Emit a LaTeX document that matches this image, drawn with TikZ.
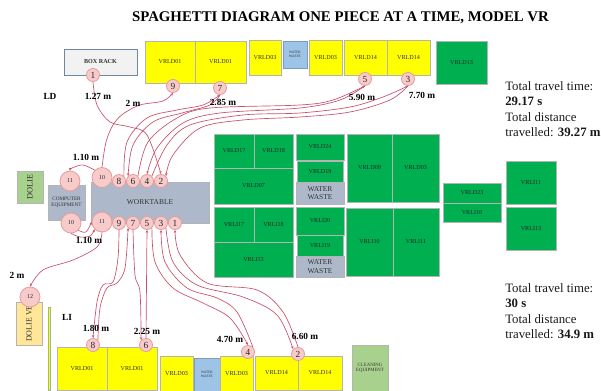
\documentclass[tikz,border=0pt]{standalone}
\usepackage{fontspec}
\setmainfont{Liberation Serif}
\usetikzlibrary{arrows.meta}
\definecolor{grn}{HTML}{00B050}
\definecolor{lgrn}{HTML}{A9D18E}
\definecolor{ylw}{HTML}{FFFF00}
\definecolor{slate}{HTML}{ADB9CA}
\definecolor{sky}{HTML}{9DC3E6}
\definecolor{sand}{HTML}{FFE699}
\definecolor{rack}{HTML}{F2F2F2}
\definecolor{pinkfill}{HTML}{F8CBCB}
\definecolor{pinkline}{HTML}{E59C9C}
\definecolor{routecol}{HTML}{C8506E}
\definecolor{edge}{HTML}{B4B4B4}
\newcommand{\bx}[7]{%
  \pgfmathsetlengthmacro{\bw}{(#4-#2)*0.75pt}%
  \pgfmathsetlengthmacro{\bh}{(#5-#3)*0.75pt}%
  \pgfmathsetmacro{\bcx}{(#2+#4)/2}%
  \pgfmathsetmacro{\bcy}{(#3+#5)/2}%
  \node[boxbase,#6,minimum width=\bw,minimum height=\bh] (#1) at (\bcx,\bcy) {#7};}
\tikzset{
  x=0.75pt,y=-0.75pt,
  boxbase/.style={draw=edge,line width=0.6pt,inner sep=0pt,align=center,font=\fontsize{4.6}{5.4}\selectfont,text=black!80},
  green box/.style={fill=grn,text=black!85},
  yellow box/.style={fill=ylw},
  slate box/.style={fill=slate},
  sky box/.style={fill=sky,draw=sky!80!black,font=\fontsize{2.6}{3}\selectfont},
  small/.style={circle,draw=pinkline,fill=pinkfill,line width=0.6pt,inner sep=0pt,minimum size=9.8pt,font=\fontsize{7}{8}\selectfont,text=black!85},
  big/.style={small,minimum size=15pt,font=\fontsize{4.5}{5}\selectfont},
  route/.style={draw=routecol,line width=0.5pt,-{Stealth[length=2.2pt,width=1.8pt]}},
  curve/.style={smooth,tension=0.55},
  dist/.style={font=\fontsize{7}{8}\selectfont\bfseries,inner sep=0pt},
  note/.style={font=\fontsize{9.6}{11.6}\selectfont,align=left,anchor=north west,inner sep=0pt,text=black!90},
}
\begin{document}
\begin{tikzpicture}
\useasboundingbox (0,0) rectangle (601,391);
\node[font=\fontsize{11.1}{13}\selectfont\bfseries,inner sep=0pt] (title) at (340.5,18) {SPAGHETTI DIAGRAM ONE PIECE AT A TIME, MODEL VR};
% top row
\bx{rackbox}{64}{49}{137}{75}{fill=rack,draw=sky!70!black}{\textbf{BOX RACK}}
\bx{ta}{145}{41}{195}{83}{yellow box}{VRLD01}
\bx{tb}{195}{41}{246}{83}{yellow box}{VRLD01}
\bx{tc}{249}{40}{281}{75}{yellow box}{VRLD03}
\bx{td}{283}{41}{307}{68}{sky box}{WATER\\WASTE}
\bx{te}{309}{40}{342}{75}{yellow box}{VRLD03}
\bx{tf}{344}{40}{387}{75}{yellow box}{VRLD14}
\bx{tg}{387}{40}{430}{75}{yellow box}{VRLD14}
\bx{th}{436}{41}{487}{84}{green box}{VRLD13}
% central blocks
\bx{ca}{214}{134}{254}{168}{green box}{VRLD17}
\bx{cb}{254}{134}{293}{168}{green box}{VRLD18}
\bx{cc}{214}{168}{293}{204}{green box}{VRLD07}
\bx{cd}{296}{134}{344}{160}{green box}{VRLD24}
\bx{ce}{297}{161}{343}{182}{green box}{VRLD19}
\bx{cf}{296}{182}{344}{204}{slate box,font=\fontsize{5.6}{6.6}\selectfont}{WATER\\WASTE}
\bx{cg}{347}{134}{392}{202}{green box}{VRLD09}
\bx{ch}{392}{134}{439}{202}{green box}{VRLD03}
\bx{da}{214}{207}{254}{242}{green box}{VRLI17}
\bx{db}{254}{207}{293}{242}{green box}{VRLI18}
\bx{dc}{214}{242}{293}{277}{green box}{VRLI13}
\bx{dd}{296}{207}{344}{235}{green box}{VRLI20}
\bx{de}{297}{235}{343}{256}{green box}{VRLI19}
\bx{df}{296}{256}{344}{277}{slate box,font=\fontsize{5.6}{6.6}\selectfont}{WATER\\WASTE}
\bx{dg}{346}{208}{393}{276}{green box}{VRLI10}
\bx{dh}{393}{208}{439}{276}{green box}{VRLI11}
\bx{ea}{443}{183}{501}{203}{green box}{VRLD23}
\bx{eb}{443}{203}{501}{222}{green box}{VRLI16}
\bx{ec}{506}{161}{556}{204}{green box}{VRLI11}
\bx{ed}{506}{207}{556}{250}{green box}{VRLI13}
% left stations
\bx{dolie}{17}{171}{43}{203}{fill=lgrn,font=\fontsize{6.3}{7}\selectfont}{\rotatebox{90}{DOLIE}}
\bx{comp}{48}{185}{85}{220}{slate box,font=\fontsize{3.9}{4.8}\selectfont}{COMPUTER\\EQUIPMENT}
\bx{bench}{91}{182}{209}{223}{slate box,font=\fontsize{5.6}{6.6}\selectfont}{WORKTABLE}
\bx{dolieve}{16}{302}{42}{345}{fill=sand,font=\fontsize{6}{7}\selectfont}{\rotatebox{90}{DOLIE VE}}
\bx{rail}{48}{307}{50.5}{390}{fill=ylw,draw=lgrn!70!gray,line width=0.4pt}{}
% bottom row
\bx{fa}{57}{347}{107}{390}{yellow box}{VRLD01}
\bx{fb}{107}{347}{157}{390}{yellow box}{VRLD01}
\bx{fc}{160}{356}{193}{391}{yellow box}{VRLD03}
\bx{fd}{194}{358}{220}{391}{sky box}{WATER\\WASTE}
\bx{fe}{220}{356}{253}{391}{yellow box}{VRLD03}
\bx{ff}{255}{356}{298}{390}{yellow box}{VRLD14}
\bx{fg}{298}{356}{342}{390}{yellow box}{VRLD14}
\bx{fh}{352}{345}{388}{391}{fill=lgrn,font=\fontsize{3.6}{4.2}\selectfont}{CLEANING\\EQUIPMENT}
% stops, upper loop
\node[small] (u1) at (93,75) {1};
\node[small] (u9) at (173,86) {9};
\node[small] (u7) at (220,88) {7};
\node[small] (u5) at (365,79) {5};
\node[small] (u3) at (408,79) {3};
\node[small] (u8) at (119,181) {8};
\node[small] (u6) at (133,181) {6};
\node[small] (u4) at (147,181) {4};
\node[small] (u2) at (161,181) {2};
\node[big] (u10) at (102,177.5) {10};
\node[big] (u11) at (70,181) {11};
% stops, lower loop
\node[big] (l10) at (71,223) {10};
\node[big] (l11) at (102,222) {11};
\node[small] (l9) at (119,223) {9};
\node[small] (l7) at (133,223) {7};
\node[small] (l5) at (147,223) {5};
\node[small] (l3) at (161,223) {3};
\node[small] (l1) at (175,223) {1};
\node[big] (l12) at (30,297) {12};
\node[small] (l8) at (93,345) {8};
\node[small] (l6) at (146,345) {6};
\node[small] (l4) at (248,352) {4};
\node[small] (l2) at (298,354) {2};
% upper routes
\draw[route] plot[curve] coordinates {(u1.south) (97,105) (110,122) (130,127) (147,135) (u2.north)};
\draw[route] plot[curve] coordinates {(u10.north) (106,142) (113,125) (123,114) (140,105) (163,101) (u9.south)};
\draw[route] plot[curve] coordinates {(u8.north east) (127,142) (147,118) (177,110) (203,105) (u7.south)};
\draw[route] plot[curve] coordinates {(u7.south) (210,105) (182,113) (153,122) (133,145) (u6.north west)};
\draw[route] plot[curve] coordinates {(u6.north east) (148,142) (177,118) (210,108) (300,105) (333,100) (u5.south)};
\draw[route] plot[curve] coordinates {(u5.south) (340,100) (300,108) (220,113) (183,123) (157,148) (u4.north)};
\draw[route] plot[curve] coordinates {(u4.north east) (167,145) (190,125) (243,115) (300,113) (350,107) (383,97) (u3.south)};
\draw[route] plot[curve] coordinates {(u3.south) (390,100) (350,112) (300,117) (243,120) (200,128) (173,155) (u2.north east)};
\draw[route] plot[curve] coordinates {(u10.north west) (83,165) (72,168) (u11.north)};
% lower routes
\draw[route] plot[curve] coordinates {(l10.south) (80,237) (90,236) (l11.south west)};
\draw[route] plot[curve] coordinates {(l10.south east) (86,232) (l11.west)};
\draw[route] plot[curve] coordinates {(l11.south) (97,247) (73,260) (43,270) (l12.north)};
\draw[route] plot[curve] coordinates {(l9.south) (118,258) (113,282) (103,285) (97,302) (l8.north)};
\draw[route] plot[curve] coordinates {(l8.north east) (100,308) (107,288) (117,283) (125,268) (l7.south west)};
\draw[route] plot[curve] coordinates {(l7.south) (135,275) (140,292) (l6.north west)};
\draw[route] (l6.north) -- (l5.south);
\draw[route] plot[curve] coordinates {(l5.south east) (155,262) (173,288) (203,303) (230,318) (l4.north)};
\draw[route] plot[curve] coordinates {(l4.north east) (237,312) (217,298) (187,288) (165,262) (l3.south)};
\draw[route] plot[curve] coordinates {(l3.south east) (173,262) (197,285) (243,297) (277,315) (l2.north west)};
\draw[route] plot[curve] coordinates {(l2.north) (283,312) (257,290) (207,283) (180,255) (l1.south)};
% distances
\node[dist] (a1) at (50,96) {LD};
\node[dist] (a2) at (98,96) {1.27 m};
\node[dist] (a3) at (133,103) {2 m};
\node[dist] (a4) at (223,102) {2.85 m};
\node[dist] (a5) at (362,97) {5.90 m};
\node[dist] (a6) at (422,95) {7.70 m};
\node[dist] (a7) at (86,157) {1.10 m};
\node[dist] (a8) at (89,240) {1.10 m};
\node[dist] (a9) at (17,275) {2 m};
\node[dist] (a10) at (67,317) {LI};
\node[dist] (a11) at (96,328) {1.80 m};
\node[dist] (a12) at (147,331) {2.25 m};
\node[dist] (a13) at (230,339) {4.70 m};
\node[dist] (a14) at (305,336) {6.60 m};
% summaries
\node[note] (n1) at (505,81) {Total travel time:\\\textbf{29.17 s}\\Total distance\\travelled: \textbf{39.27 m}};
\node[note] (n2) at (505,283) {Total travel time:\\\textbf{30 s}\\Total distance\\travelled: \textbf{34.9 m}};
\end{tikzpicture}
\end{document}
